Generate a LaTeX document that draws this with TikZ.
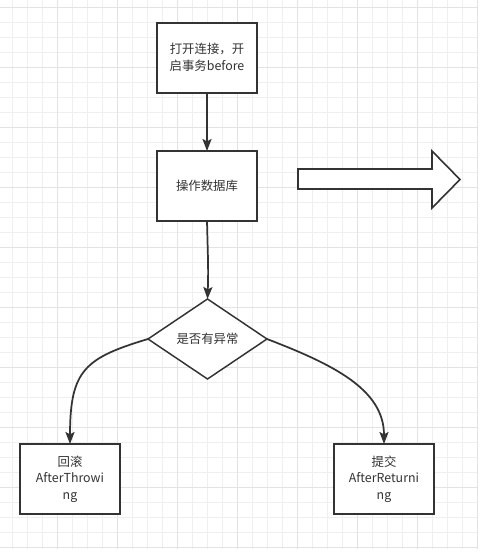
\documentclass[tikz,border=0pt]{standalone}
\usepackage{fontspec}
\setmainfont{Noto Sans CJK SC}
\usepackage{tikz}
\usetikzlibrary{arrows.meta}
\usetikzlibrary{positioning}
\usetikzlibrary{shapes.geometric}
\definecolor{ink}{HTML}{333333}
\definecolor{gridminor}{HTML}{EFEFEF}
\definecolor{gridmajor}{HTML}{E3E3E3}

\begin{document}
\begin{tikzpicture}
        [x=0.75pt,y=-0.75pt,
        box/.style={rectangle,draw=ink,line width=1.5pt,fill=white,minimum width=75pt,minimum height=52.5pt,inner sep=2pt,outer sep=0pt,align=center,text=ink,font=\fontsize{9.3}{12.5}\selectfont},
        decision/.style={diamond,draw=ink,line width=1.1pt,fill=white,minimum width=89.25pt,minimum height=60pt,inner sep=0pt,outer sep=0pt,aspect=1.5,text=ink,font=\fontsize{9.3}{12.5}\selectfont},
        on/.style={->,>={Stealth[length=9pt,width=6.8pt,inset=1.8pt]},draw=ink,line width=1.3pt},
        hollow/.style={draw=ink,line width=1.2pt,fill=white,line join=miter},
        minorline/.style={draw=gridminor,line width=0.75pt},
        majorline/.style={draw=gridmajor,line width=0.75pt}]

% Hintergrund %
\fill[white] (0,0) rectangle (492,554);
\useasboundingbox (0,0) rectangle (492,554);
\foreach \gx in {12,27,...,477} \draw[minorline] (\gx,0) -- (\gx,549);
\foreach \gy in {7,22,...,547} \draw[minorline] (0,\gy) -- (478,\gy);
\foreach \gx in {57,117,...,477} \draw[majorline] (\gx,0) -- (\gx,549);
\foreach \gy in {7,67,...,547} \draw[majorline] (0,\gy) -- (478,\gy);

% Schritte %
\node[box] (open) at (207,57.5) {打开连接，开\\启事务before};
\node[box] (work) at (207,186) {操作数据库};
\node[decision] (check) at (207.5,339) {是否有异常};
\node[box] (rollback) at (70,479) {回滚\\AfterThrowi\\ng};
\node[box] (commit) at (384,479) {提交\\AfterReturni\\ng};

% Pfeile %
\draw[on] (open) -- (work);
\draw[on] (work.south) .. controls +(1,40) and +(1,-30) .. (check.north);
\draw[on] (check.west) .. controls +(-63,19) and +(0,-74) .. (rollback.north);
\draw[on] (check.east) .. controls +(65,25) and +(0,-55) .. (commit.north);

% Block-Pfeil %
\draw[hollow] (298,169) -- (432,169) -- (432,151) -- (460,179.5) -- (432,208) -- (432,189) -- (298,189) -- cycle;
\end{tikzpicture}
\end{document}
